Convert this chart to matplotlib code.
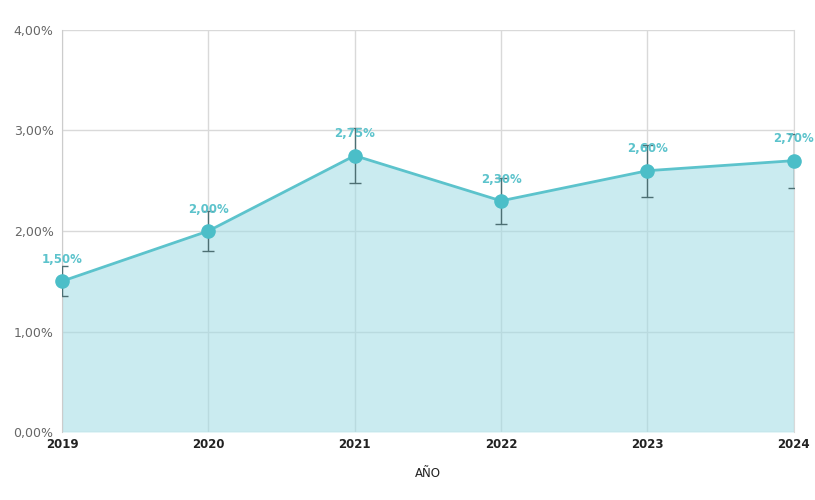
import numpy as np
import matplotlib.pyplot as plt
from matplotlib.ticker import FuncFormatter

years = ['2019', '2020', '2021', '2022', '2023', '2024']
values = [1.50, 2.00, 2.75, 2.30, 2.60, 2.70]
errors = [0.15, 0.20, 0.275, 0.23, 0.26, 0.27]
labels = ['1,50%', '2,00%', '2,75%', '2,30%', '2,60%', '2,70%']

line_col = '#5cc3cc'
fill_col = '#9fdbe4'
err_col = '#4d6f73'

fig = plt.figure(figsize=(8.15, 5.0), dpi=100)
ax = fig.add_axes([0.076, 0.136, 0.898, 0.804])

x = np.arange(len(years))
ax.fill_between(x, 0, values, color=fill_col, alpha=0.55, lw=0, zorder=1)
ax.plot(x, values, color=line_col, lw=2, zorder=3)
ax.errorbar(x, values, yerr=errors, fmt='none', ecolor=err_col, elinewidth=1,
            capsize=4.5, capthick=1, zorder=4)
ax.scatter(x, values, s=90, color='#4bbec8', zorder=5, clip_on=False)

# value labels just above each point
for xi, v, lab in zip(x, values, labels):
    ax.annotate(lab, (xi, v), xytext=(0, 11), textcoords='offset points',
                ha='center', va='bottom', color=line_col, fontsize=8.5,
                fontweight='bold', zorder=6)

ax.set_xlim(0, len(years) - 1)
ax.set_ylim(0, 4)
ax.set_xticks(x)
ax.set_xticklabels(years, fontweight='bold', fontsize=8.5)
ax.set_yticks([0, 1, 2, 3, 4])
ax.yaxis.set_major_formatter(FuncFormatter(lambda v, p: f'{v:.2f}%'.replace('.', ',')))
ax.tick_params(axis='y', colors='#666666', labelsize=9, length=0, pad=6)
ax.tick_params(axis='x', colors='black', length=0, pad=4)
for lab in ax.get_xticklabels():
    lab.set_color('#222222')

ax.grid(True, color='#d9d9d9', lw=1, zorder=0)
ax.set_axisbelow(True)
for s in ['top', 'bottom']:
    ax.spines[s].set_visible(False)
ax.spines['left'].set_color('#cccccc')
ax.spines['right'].set_color('#d9d9d9')

ax.set_xlabel('AÑO', fontsize=8.5, color='#222222', labelpad=12)

fig.savefig('out.png', dpi=100)
